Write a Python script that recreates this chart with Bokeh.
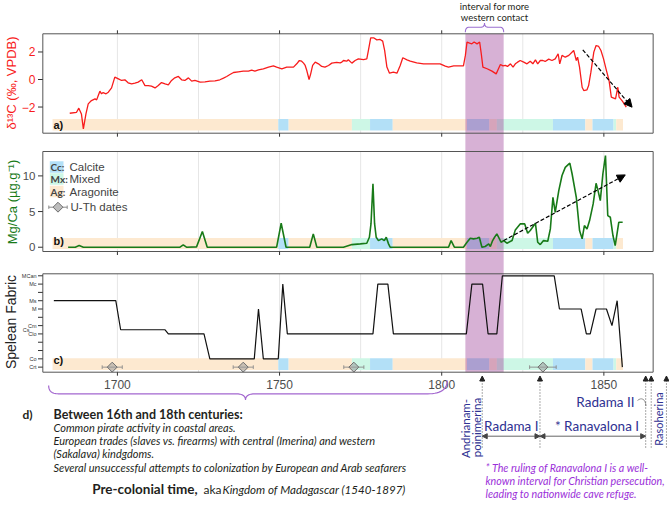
import numpy as np
from bokeh.plotting import figure
from bokeh.models import Range1d, Arrow, NormalHead
from bokeh.core.properties import value
from bokeh.embed import file_html
from bokeh.resources import INLINE

# ---------------------------------------------------------------- data
# delta13C (per mil VPDB)
D13C_YEAR = [1685.3, 1687.4, 1688.1, 1688.9, 1689.5, 1690.3, 1691.0, 1692.0, 1693.1, 1693.6,
             1694.1, 1694.6, 1695.1, 1695.6, 1696.5, 1697.2, 1698.2, 1699.2, 1700.3, 1701.3,
             1702.3, 1703.3, 1704.4, 1705.4, 1706.4, 1707.5, 1708.5, 1709.5, 1710.5, 1711.6,
             1712.6, 1713.6, 1714.7, 1715.7, 1716.7, 1717.7, 1718.8, 1719.8, 1720.8, 1721.9,
             1722.9, 1723.9, 1725.5, 1727.0, 1728.5, 1730.1, 1731.6, 1732.7, 1733.7, 1734.7,
             1735.8, 1737.3, 1738.8, 1740.4, 1741.4, 1742.4, 1743.5, 1745.0, 1746.6, 1748.1,
             1749.1, 1750.7, 1752.2, 1754.3, 1755.3, 1756.1, 1756.8, 1757.4, 1757.9, 1758.4,
             1759.1, 1759.6, 1760.2, 1761.0, 1762.0, 1763.0, 1764.0, 1765.1, 1766.1, 1767.6,
             1768.7, 1769.2, 1769.7, 1770.7, 1771.2, 1772.3, 1773.3, 1774.3, 1775.9, 1776.9,
             1777.4, 1778.1, 1779.0, 1780.0, 1781.0, 1781.8, 1782.4, 1783.1, 1783.9, 1785.1,
             1786.2, 1787.2, 1788.0, 1789.3, 1790.3, 1792.3, 1794.4, 1796.5, 1799.5, 1801.1,
             1802.1, 1803.7, 1805.2, 1806.7, 1807.3, 1807.8, 1808.6, 1809.3, 1810.0, 1810.9,
             1811.7, 1812.2, 1812.7, 1814.0, 1815.5, 1816.8, 1817.5, 1818.1, 1818.9, 1819.6,
             1820.3, 1821.2, 1822.0, 1822.7, 1823.4, 1824.2, 1825.3, 1826.3, 1827.3, 1828.1,
             1828.9, 1829.6, 1830.4, 1831.2, 1831.9, 1833.0, 1834.0, 1835.0, 1835.9, 1836.4,
             1837.1, 1838.1, 1839.2, 1840.7, 1841.5, 1841.9, 1842.5, 1843.3, 1843.8, 1844.8,
             1845.3, 1846.0, 1846.9, 1847.6, 1848.4, 1849.1, 1849.9, 1850.8, 1851.6, 1852.3,
             1853.6, 1854.3, 1854.7, 1855.6, 1856.3, 1856.9]
D13C = [-2.45, -2.38, -2.08, -2.50, -3.59, -2.50, -1.77, -1.53, -1.41, -1.48,
        -1.16, -0.85, -1.04, -0.95, -1.04, -0.92, -0.61, 0.17, 0.05, -0.07,
        -0.02, -0.24, -0.32, -0.27, -0.19, -0.02, -0.44, -0.44, -0.48, -0.61,
        -0.44, -0.22, -0.32, -0.39, -0.07, 0.12, 0.22, -0.02, -0.07, 0.12,
        -0.12, -0.07, -0.19, -0.17, -0.12, -0.10, -0.02, 0.10, 0.22, 0.36,
        0.51, 0.56, 0.61, 0.61, 0.68, 0.61, 0.70, 0.78, 0.90, 0.99,
        0.90, 0.78, 0.90, 0.90, 1.14, 1.38, 1.33, 1.19, 1.02, 0.65,
        0.00, 0.41, 1.02, 1.26, 1.14, 0.95, 0.90, 1.02, 1.19, 1.24,
        1.21, 1.26, 1.38, 1.33, 1.43, 1.19, 1.38, 1.50, 1.45, 1.50,
        2.11, 3.03, 3.03, 2.88, 2.91, 2.79, 2.11, 0.90, 0.46, 0.53,
        0.46, 1.02, 1.58, 1.43, 1.33, 1.21, 1.14, 1.14, 1.14, 0.97,
        0.90, 0.99, 0.99, 0.99, 1.75, 2.72, 2.64, 2.59, 2.72, 2.59,
        2.72, 1.87, 0.90, 0.78, 0.61, 0.41, 0.78, 1.09, 0.99, 1.02,
        0.95, 1.14, 0.90, 1.14, 1.26, 1.38, 1.26, 1.14, 1.33, 1.14,
        1.43, 1.14, 1.38, 1.38, 1.31, 1.48, 1.38, 1.50, 1.87, 1.14,
        1.75, 1.62, 1.75, 2.11, 1.38, 1.62, 0.90, -0.56, -0.80, -0.75,
        -0.44, 0.53, 1.99, 2.47, 2.40, 2.11, 1.50, 0.65, -0.07, -1.28,
        -1.41, -0.56, -1.28, -1.53, -1.77, -2.01]

# Mg/Ca (ug/g)
MGCA_YEAR = [1684.8, 1687.0, 1688.2, 1689.5, 1719.3, 1720.3, 1721.3, 1724.4, 1726.2, 1727.7,
             1749.1, 1750.5, 1752.0, 1759.3, 1760.4, 1761.5, 1769.7, 1772.3, 1774.9, 1776.9,
             1777.7, 1778.2, 1778.8, 1779.3, 1779.8, 1780.5, 1781.5, 1782.3, 1782.9, 1783.6,
             1784.1, 1802.1, 1802.9, 1803.9, 1806.7, 1807.8, 1808.8, 1809.8, 1810.9, 1811.6,
             1812.4, 1813.4, 1814.5, 1815.0, 1815.7, 1816.3, 1817.0, 1817.8, 1818.3, 1819.1,
             1820.1, 1821.7, 1822.7, 1824.2, 1825.6, 1826.5, 1827.3, 1828.9, 1829.6, 1830.4,
             1831.4, 1832.7, 1833.5, 1834.3, 1835.0, 1836.1, 1837.1, 1838.1, 1839.5, 1840.2,
             1841.5, 1842.5, 1843.3, 1844.0, 1844.8, 1845.6, 1846.7, 1847.6, 1848.2, 1848.9,
             1849.7, 1850.5, 1851.2, 1852.0, 1852.8, 1853.5, 1854.6, 1855.8]
MGCA = [0.0, 0.0, 0.23, 0.0, 0.0, 0.33, 0.0, 0.05, 2.2, 0.0,
        0.0, 3.36, 0.0, 0.0, 1.87, 0.0, 0.0, 0.37, 0.47, 0.56,
        1.4, 3.3, 8.88, 3.3, 1.4, 0.93, 1.17, 0.93, 1.4, 0.47,
        0.0, 0.0, 0.93, 0.0, 0.0, 0.7, 1.26, 1.17, 1.26, 1.4,
        0.0, 0.1, 0.47, 0.1, 0.93, 1.4, 1.87, 1.17, 0.7, 0.93,
        0.56, 0.93, 2.43, 3.27, 3.27, 1.96, 2.34, 3.36, 0.7, 0.37,
        0.93, 0.84, 2.57, 7.0, 4.9, 7.94, 10.05, 11.2, 11.8, 10.3,
        7.0, 2.34, 1.17, 3.04, 2.57, 3.74, 6.07, 8.97, 7.94, 6.54,
        10.3, 12.85, 4.44, 4.2, 1.64, 0.23, 3.5, 3.5]

# Spelean fabric: ordinal rank of each fabric code (Crt lowest, MCan highest)
FABRIC_RANK = {"Crt": 0, "Co": 1, "Clo": 4, "Cs": 4.5, "Cm": 5,
               "M": 7, "Ms": 8, "Mc": 10, "MCan": 11}
FABRIC_TICK_RANKS = list(range(12))
FABRIC_YEAR = [1680.4, 1699.5, 1701.0, 1714.7, 1715.7, 1726.7, 1728.5, 1742.2, 1743.5, 1745.0,
               1749.6, 1751.0, 1752.4, 1778.8, 1780.3, 1783.4, 1785.1, 1807.6, 1809.3, 1812.6,
               1814.3, 1817.0, 1818.7, 1834.7, 1836.3, 1843.0, 1844.6, 1845.8, 1847.6, 1850.8,
               1852.5, 1854.1, 1855.7]
FABRIC = ["Ms", "Ms", "Cs", "Cs", "Clo", "Clo", "Co", "Co", "M", "Co",
          "Co", "Mc", "Clo", "Clo", "Mc", "Mc", "Clo", "Clo", "Mc", "Mc",
          "Clo", "Clo", "MCan", "MCan", "M", "M", "Clo", "Clo", "M", "M",
          "Cm", "Ms", "Crt"]

# Mineralogy intervals (Ag aragonite, Cc calcite, Mx mixed)
PHASE_START = [1680.0, 1749.6, 1752.8, 1772.3, 1777.9, 1784.9, 1807.8, 1814.7,
               1817.0, 1834.3, 1844.3, 1846.5, 1853.0, 1853.8]
PHASE_END = [1749.6, 1752.8, 1772.3, 1777.9, 1784.9, 1807.8, 1814.7, 1817.0,
             1834.3, 1844.3, 1846.5, 1853.0, 1853.8, 1855.9]
PHASE_MINERAL = ["Ag", "Cc", "Ag", "Mx", "Cc", "Ag", "Cc", "Ag",
                 "Mx", "Cc", "Ag", "Cc", "Mx", "Ag"]

# U-Th dates (year AD, +/- error)
UTH_AGE = [1698.4, 1738.8, 1772.9, 1831.2]
UTH_ERR = [3.1, 3.1, 3.1, 4.1]

# interval for more western contact
CONTACT_START, CONTACT_END = 1807.3, 1819.1

# trend arrows (year, value)
D13C_TREND_YEAR, D13C_TREND = [1843.5, 1858.7], [2.16, -2.01]
MGCA_TREND_YEAR, MGCA_TREND = [1819.1, 1856.6], [0.93, 10.14]

# reign boundaries: Radama I, Ranavalona I, Radama II, Rasoherina, after Rasoherina
REIGN_YEARS = [1812.5, 1830.3, 1862.9, 1864.6, 1869.3]

YEAR_TICKS = [1700, 1750, 1800, 1850]
YEAR_LABELS = ["1700", "1750", "1800", "1850"]
GRID_YEARS = [1700, 1725, 1750, 1775, 1800, 1825, 1850]

D13C_TICKS, D13C_LABELS = [2, 0, -2], ["2", "0", "\u22122"]
MGCA_TICKS, MGCA_LABELS = [10, 5, 0], ["10", "5", "0"]
FABRIC_LABELS = ["MCan", "Mc", "Ms", "M", "Cm", "Clo", "Co", "Crt"]

# ---------------------------------------------------------------- layout
W, H = 669, 507
PX_PER_YEAR = 3.243
YEAR_AT_LEFT = 1663.95
XL, XR = 1677.0, 1865.2          # panel frame edges (years)

A_TOP, A_BOT, A_LIM = 33.3, 132.7, (-3.9, 3.32)
B_TOP, B_BOT, B_LIM = 151.0, 251.0, (-0.6, 13.42)
C_TOP, C_BOT, C_LIM = 273.3, 371.7, (-0.61, 11.24)

RED, GREEN, INK = "#f81c1c", "#187a18", "#111111"
TEXT, AXIS_TXT = "#231f20", "#4d4d4d"
NAVY, VIOLET, BRACE = "#2e3192", "#9b30d9", "#a367cf"
MINERAL_COLOR = {"Ag": "#fde9d0", "Cc": "#b3e0f7", "Mx": "#cdf7e6"}


def panel_range(top_px, bot_px, lim):
    lo, hi = lim
    s = (hi - lo) / (bot_px - top_px)
    return Range1d(lo - (H - bot_px) * s, hi + top_px * s)


p = figure(width=W, height=H, output_backend="svg", toolbar_location=None,
           x_range=Range1d(YEAR_AT_LEFT, YEAR_AT_LEFT + W / PX_PER_YEAR),
           y_range=Range1d(H, 0), x_axis_type=None, y_axis_type=None,
           min_border=0, title=None)
p.outline_line_color = None
p.background_fill_color = "white"
p.border_fill_color = "white"
p.extra_x_ranges = {"px": Range1d(0, W)}
p.extra_y_ranges = {"a": panel_range(A_TOP, A_BOT, A_LIM),
                    "b": panel_range(B_TOP, B_BOT, B_LIM),
                    "c": panel_range(C_TOP, C_BOT, C_LIM)}


def label(x, y, text, size, color=TEXT, font="Lato", style="normal", align="left",
          baseline="middle", angle=0.0, xr="px", yr="default"):
    xs = x if isinstance(x, list) else [x]
    ys = y if isinstance(y, list) else [y]
    ts = text if isinstance(text, list) else [text]
    p.text(x=xs, y=ys, text=ts, text_font=value(font), text_font_size=f"{size}px",
           text_font_style=style, text_color=color, text_align=align,
           text_baseline=baseline, angle=angle, x_range_name=xr, y_range_name=yr)


panels = [("a", A_TOP, A_BOT, (-3.71, -2.86)),
          ("b", B_TOP, B_BOT, (-0.25, 1.31)),
          ("c", C_TOP, C_BOT, (-0.35, 1.07))]

# grid lines and mineralogy strips
for name, top, bot, strip in panels:
    p.segment(x0=GRID_YEARS, x1=GRID_YEARS, y0=[top] * len(GRID_YEARS),
              y1=[bot] * len(GRID_YEARS), line_color="#e6e6e6", line_width=1)
    p.quad(left=PHASE_START, right=PHASE_END, bottom=[strip[0]] * len(PHASE_START),
           top=[strip[1]] * len(PHASE_START),
           fill_color=[MINERAL_COLOR[m] for m in PHASE_MINERAL], line_color=None,
           y_range_name=name)

# western-contact band across all three panels
p.quad(left=[CONTACT_START], right=[CONTACT_END], top=[A_TOP], bottom=[C_BOT],
       fill_color="#a0469a", fill_alpha=0.42, line_color=None)

# records
p.line(D13C_YEAR, D13C, line_color=RED, line_width=1.3, y_range_name="a")
p.line(MGCA_YEAR, MGCA, line_color=GREEN, line_width=1.6, y_range_name="b")
p.line(FABRIC_YEAR, [FABRIC_RANK[f] for f in FABRIC], line_color=INK, line_width=1.2,
       y_range_name="c")

# U-Th dates with error bars
uth_lo = [a - e for a, e in zip(UTH_AGE, UTH_ERR)]
uth_hi = [a + e for a, e in zip(UTH_AGE, UTH_ERR)]
crt = FABRIC_RANK["Crt"]
p.segment(x0=uth_lo, x1=uth_hi, y0=[crt] * 4, y1=[crt] * 4, line_color="#8a8a8a",
          line_width=0.9, y_range_name="c")
p.segment(x0=uth_lo + uth_hi, x1=uth_lo + uth_hi, y0=[crt - 0.22] * 8, y1=[crt + 0.22] * 8,
          line_color="#8a8a8a", line_width=0.9, y_range_name="c")
p.scatter(UTH_AGE, [crt] * 4, marker="square", angle=np.pi / 4, size=7,
          fill_color="#9a9a9a", fill_alpha=0.55, line_color="#6e6e6e",
          y_range_name="c")

# trend arrows
p.add_layout(Arrow(end=NormalHead(size=8, fill_color="black", line_color="black"),
                   x_start=D13C_TREND_YEAR[0], y_start=D13C_TREND[0],
                   x_end=D13C_TREND_YEAR[1], y_end=D13C_TREND[1],
                   line_dash="4 2", line_width=1.2, line_color="black",
                   y_range_name="a"))
p.add_layout(Arrow(end=NormalHead(size=8, fill_color="black", line_color="black"),
                   x_start=MGCA_TREND_YEAR[0], y_start=MGCA_TREND[0],
                   x_end=MGCA_TREND_YEAR[1], y_end=MGCA_TREND[1],
                   line_dash="4 2", line_width=1.2, line_color="black",
                   y_range_name="b"))

# panel frames and ticks
for name, top, bot, _ in panels:
    p.quad(left=[XL], right=[XR], top=[top], bottom=[bot], fill_color=None,
           line_color="#555555", line_width=1)
n = len(YEAR_TICKS)
p.segment(x0=YEAR_TICKS, x1=YEAR_TICKS, y0=[A_TOP - 3.5] * n, y1=[A_TOP] * n,
          line_color="#333333")
for bot in (A_BOT, B_BOT, C_BOT):
    p.segment(x0=YEAR_TICKS, x1=YEAR_TICKS, y0=[bot] * n, y1=[bot + 3.5] * n,
              line_color="#333333")
label([(t - YEAR_AT_LEFT) * PX_PER_YEAR for t in YEAR_TICKS], [383.5] * n, YEAR_LABELS,
      12, color=AXIS_TXT, font="Liberation Sans", align="center")

for name, ticks in (("a", D13C_TICKS), ("b", MGCA_TICKS), ("c", FABRIC_TICK_RANKS)):
    k = len(ticks)
    p.segment(x0=[37.5] * k, x1=[42.3] * k, y0=ticks, y1=ticks, line_color="#333333",
              x_range_name="px", y_range_name=name)
label([35] * 3, D13C_TICKS, D13C_LABELS, 12, color=RED, font="Liberation Sans",
      align="right", yr="a")
label([35] * 3, MGCA_TICKS, MGCA_LABELS, 11.5, color=AXIS_TXT, font="Liberation Sans",
      align="right", yr="b")
label([36] * len(FABRIC_LABELS), [FABRIC_RANK[f] for f in FABRIC_LABELS], FABRIC_LABELS,
      5.5, color="#333333", font="Liberation Sans", align="right", yr="c")
label(29, FABRIC_RANK["Cs"], "Cs", 5.5, color="#333333", font="Liberation Sans",
      align="right", yr="c")

# axis titles
label(11, 82.5, "\u03b4\u00b9\u00b3C (\u2030, VPDB)", 13, color=RED, font="Liberation Sans",
      align="center", angle=np.pi / 2)
label(11.5, 201.5, "Mg/Ca (\u00b5g.g\u207b\u00b9)", 13, color=GREEN, font="Liberation Sans",
      align="center", angle=np.pi / 2)
label(10, 321.5, "Spelean Fabric", 14, color="#222222", font="Liberation Sans",
      align="center", angle=np.pi / 2)

# panel tags
for tag, y in (("a)", 124.5), ("b)", 240.0), ("c)", 359.5)):
    label(53, y, tag, 11, color="#111111", font="Liberation Sans", style="bold")

# mineralogy legend
for code, name, y in (("Cc", "Calcite", 166.5), ("Mx", "Mixed", 178.5), ("Ag", "Aragonite", 191.0)):
    p.quad(left=[49.3], right=[63.0], top=[y - 5.8], bottom=[y + 5.8],
           fill_color=MINERAL_COLOR[code], line_color=None, x_range_name="px")
    label(50, y, code + ":", 10, color="#444444", font="Lato", style="bold")
    label(69, y, name, 11.5, color="#444444", font="Liberation Sans")
p.segment(x0=[48.3], x1=[66.7], y0=[206.7], y1=[206.7], line_color="#8a8a8a",
          x_range_name="px")
p.segment(x0=[48.3, 66.7], x1=[48.3, 66.7], y0=[205, 205], y1=[208.4, 208.4],
          line_color="#8a8a8a", x_range_name="px")
p.scatter([57.5], [206.7], marker="square", angle=np.pi / 4, size=7, fill_color="#bdbdbd",
          line_color="#6e6e6e", x_range_name="px")
label(70, 206.7, "U-Th dates", 11.5, color="#444444", font="Liberation Sans")


# curly braces
def brace(xl, xr, xt, y_end_l, y_end_r, y_line, y_tip, rl, rt, rr, n=16):
    t = np.linspace(0, 1, n)

    def qb(p0, c, p2):
        return ((1 - t) ** 2 * p0[0] + 2 * (1 - t) * t * c[0] + t ** 2 * p2[0],
                (1 - t) ** 2 * p0[1] + 2 * (1 - t) * t * c[1] + t ** 2 * p2[1])
    parts = [qb((xl, y_end_l), (xl, y_line), (xl + rl, y_line)),
             qb((xt - rt, y_line), (xt, y_line), (xt, y_tip)),
             qb((xt, y_tip), (xt, y_line), (xt + rt, y_line)),
             qb((xr - rr, y_line), (xr, y_line), (xr, y_end_r))]
    xs = np.concatenate([q[0] for q in parts])
    ys = np.concatenate([q[1] for q in parts])
    return xs, ys


bx, by = brace(CONTACT_START, CONTACT_END, (CONTACT_START + CONTACT_END) / 2,
               31.7, 31.7, 26.7, 22.5, 1.2, 1.2, 1.2)
p.line(bx, by, line_color="#9b6fd0", line_width=1.1)
label(494, 5.5, "interval for more", 9.5, align="center")
label(494, 16.5, "western contact", 9.5, align="center")

bx, by = brace(1678.8, 1801.7, 1739.5, 385.0, 380.0, 393.3, 399.5, 3.0, 3.0, 6.0)
p.line(bx, by, line_color=BRACE, line_width=1.2)

# historical text block
label(22, 413.5, "d)", 12, style="bold")
label(53, 413.5, "Between 16th and 18th centuries:", 12.5, style="bold")
for y, line in ((427.0, "Common pirate activity in coastal areas."),
                (440.2, "European trades (slaves vs. firearms) with central (Imerina) and western"),
                (453.4, "(Sakalava) kindgdoms."),
                (466.7, "Several unsuccessful attempts to colonization by European and Arab seafarers")):
    label(53, y, line, 11, style="italic")
label(91.7, 488.5, "Pre-colonial time,", 13.5, style="bold")
label(203, 488.5, "aka", 12)
label(222, 488.5, "Kingdom of Madagascar (1540-1897)", 11.6, style="italic")

# reigns
for yr in REIGN_YEARS:
    p.add_layout(Arrow(end=NormalHead(size=5, fill_color="#222222", line_color="#222222"),
                       x_start=yr, y_start=447, x_end=yr, y_end=375.5,
                       line_dash="1 2", line_width=0.9, line_color="#444444"))
for a, b in ((REIGN_YEARS[0], REIGN_YEARS[1]), (REIGN_YEARS[1], REIGN_YEARS[2])):
    p.add_layout(Arrow(start=NormalHead(size=5, fill_color="#444444", line_color="#444444"),
                       end=NormalHead(size=5, fill_color="#444444", line_color="#444444"),
                       x_start=a, y_start=435.7, x_end=b, y_end=435.7,
                       line_width=0.9, line_color="#555555"))
label(510.8, 425, "Radama I", 13.5, color=NAVY, align="center")
label(596.5, 425, "* Ranavalona I", 13.5, color=NAVY, align="center")
label(634, 401.7, "Radama II", 13.5, color=NAVY, align="right")
p.bezier(x0=[637], y0=[400], x1=[645.5], y1=[405.5], cx0=[641], cy0=[396.5],
         cx1=[645], cy1=[398.5], line_color="#777777", line_width=0.8, x_range_name="px")
label(465, 428, "Andrianam-", 11.5, color=NAVY, align="center", angle=np.pi / 2)
label(475.5, 427, "poinimerina", 11.5, color=NAVY, align="center", angle=np.pi / 2)
label(658.3, 418.5, "Rasoherina", 11, color=NAVY, align="center", angle=np.pi / 2)

for y, line in ((466.7, "* The ruling of Ranavalona I is a well-"),
                (479.5, "known interval for Christian persecution,"),
                (492.7, "leading to nationwide cave refuge.")):
    label(485, y, line, 10.7, color=VIOLET, style="italic")

open("out.html", "w").write(file_html(p, INLINE))
